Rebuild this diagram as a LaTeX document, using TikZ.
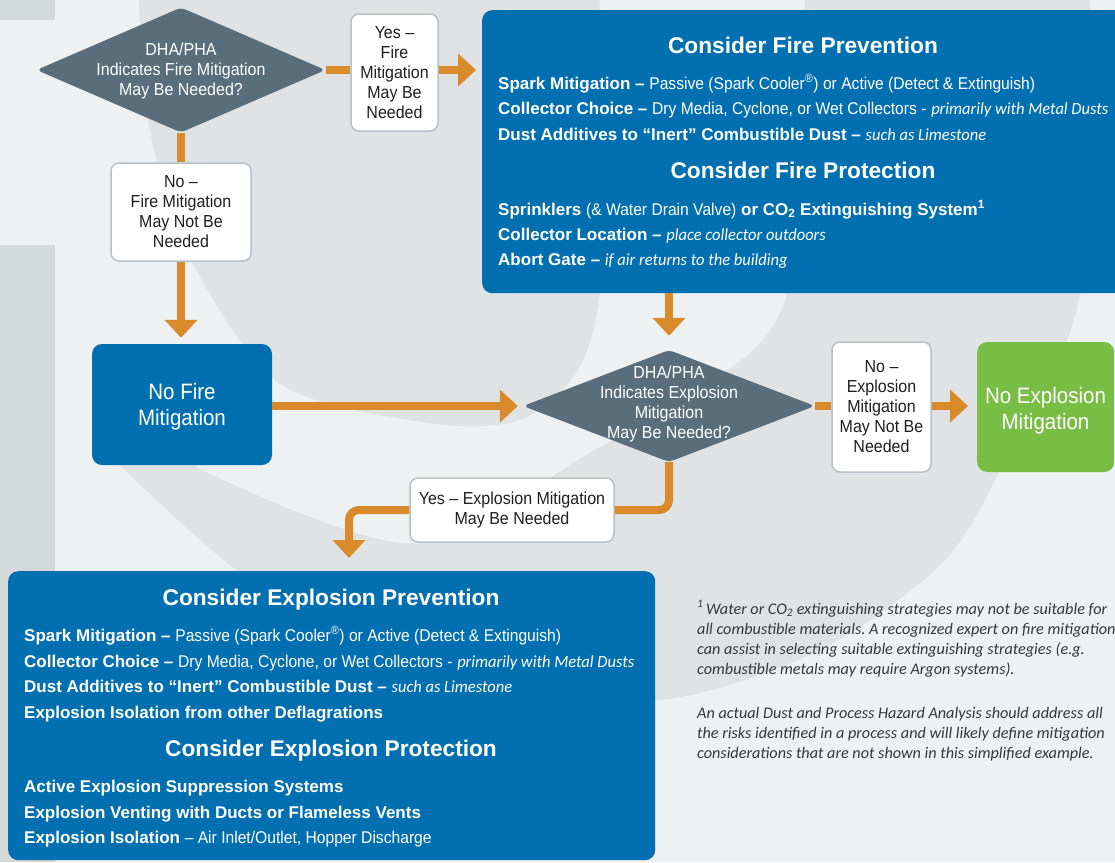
\documentclass[tikz,border=0pt]{standalone}
\usepackage{fontspec}
\setmainfont{Liberation Sans}
\newfontfamily\condfont{Liberation Sans}[FakeStretch=0.92]
\newfontfamily\italfont{Carlito}[FakeStretch=0.97]
\newfontfamily\notefont{Carlito}
\usetikzlibrary{shapes.geometric,arrows.meta}

\definecolor{flowblue}{HTML}{0270B0}
\definecolor{slate}{HTML}{5A6D7A}
\definecolor{floworange}{HTML}{D98A2B}
\definecolor{flowgreen}{HTML}{78BE44}
\definecolor{boxline}{HTML}{B7C1C9}
\definecolor{bgmid}{HTML}{DFE3E3}
\definecolor{bglight}{HTML}{EDF1F2}
\definecolor{bgdark}{HTML}{D4D9DA}
\definecolor{notegrey}{HTML}{383838}

\newcommand{\condtxt}[1]{{\condfont #1}}
\newcommand{\itpart}[1]{{\italfont\itshape #1}}

\begin{document}
\frenchspacing
\begin{tikzpicture}[x=1pt,y=-1pt,
    flowline/.style={draw=floworange, line width=8pt},
    arrowhd/.style={-{Triangle[length=18pt,width=32pt]}},
    decision/.style={diamond, fill=slate, inner sep=0pt, rounded corners=5pt},
    dtext/.style={align=center, text=white, inner sep=0pt,
      font=\condfont\fontsize{17.4}{20}\selectfont},
    answer/.style={draw=boxline, line width=1.5pt, fill=white, rounded corners=8pt,
      inner sep=0pt, align=center, text=black!88,
      font=\condfont\fontsize{17.4}{20}\selectfont},
    bluebox/.style={fill=flowblue, rounded corners=10pt, inner sep=0pt},
    endtext/.style={align=center, text=white, inner sep=0pt,
      font=\condfont\fontsize{22.3}{26}\selectfont},
    heading/.style={anchor=base, inner sep=0pt, text=white,
      font=\bfseries\fontsize{22.7}{24}\selectfont},
    bodyline/.style={anchor=base west, inner sep=0pt, text=white,
      font=\fontsize{17}{20}\selectfont},
    noteline/.style={anchor=base west, inner sep=0pt, text=notegrey,
      font=\notefont\itshape\fontsize{16.2}{20}\selectfont}]

  % background
  \useasboundingbox (0,0) rectangle (1115,862);
  \fill[bglight] (0,0) rectangle (1115,862);
  \fill[bgmid] (138,-20) plot[smooth] coordinates {(138,-20) (148,120) (186,250)
      (279,383) (429,423) (520,420) (578,370) (600,290) (598,150) (600,-20)} -- cycle;
  \fill[bgmid] (1090,-20) plot[smooth] coordinates {(1090,-20) (1080,293) (1010,450)
      (945,560) (820,650) (660,700) (450,690) (250,580) (118,463)}
    -- (100,400) -- (200,455)
    -- plot[smooth] coordinates {(196,467) (411,543) (600,447) (700,390) (787,293) (805,-20)}
    -- cycle;
  \fill[bgdark] (0,0) rectangle (55,20);
  \fill[bgdark] (0,245) rectangle (55,862);

  % fire branch
  \node[decision, minimum width=289pt, minimum height=125pt] (d1) at (181,70) {};
  \node[dtext] (d1t) at (181,71) {DHA/PHA\\Indicates Fire Mitigation\\May Be Needed?};
  \node[answer, minimum width=87pt, minimum height=117pt] (yes1) at (394.5,72.5)
    {Yes –\\Fire\\Mitigation\\May Be\\Needed};
  \node[answer, minimum width=140pt, minimum height=98pt] (no1) at (181,212)
    {No –\\Fire Mitigation\\May Not Be\\Needed};
  \node[bluebox, minimum width=180pt, minimum height=121pt] (nofire) at (182,404.5) {};
  \node[endtext] (nofiret) at (182,406.5) {No Fire\\Mitigation};
  \node[bluebox, minimum width=645pt, minimum height=283pt, anchor=north west] (fire) at (482,10) {};

  % explosion branch
  \node[decision, minimum width=292pt, minimum height=112pt] (d2) at (669,406) {};
  \node[dtext] (d2t) at (669,404) {DHA/PHA\\Indicates Explosion\\Mitigation\\May Be Needed?};
  \node[answer, minimum width=99pt, minimum height=130pt] (no2) at (881.5,407)
    {No –\\Explosion\\Mitigation\\May Not Be\\Needed};
  \node[fill=flowgreen, rounded corners=10pt, minimum width=137pt, minimum height=130pt,
    anchor=west] (noexpl) at (977,407) {};
  \node[endtext] (noexplt) at (1045.5,411) {No Explosion\\Mitigation};
  \node[answer, minimum width=204pt, minimum height=64pt] (yes2) at (512,510)
    {Yes – Explosion Mitigation\\May Be Needed};
  \node[bluebox, minimum width=647pt, minimum height=289pt, anchor=north west] (expl) at (8,571) {};
  \coordinate (drop) at (349,571);

  % connectors
  \draw[flowline] (d1.east) -- (d1.east -| yes1.west);
  \draw[flowline, arrowhd, shorten >=6pt] (d1.east -| yes1.east) -- (d1.east -| fire.west);
  \draw[flowline] (d1.south) -- (no1.north);
  \draw[flowline, arrowhd, shorten >=6pt] (no1.south) -- (no1.south |- nofire.north);
  \draw[flowline, arrowhd, shorten >=5pt] (nofire.east |- d2.west) -- (d2.west);
  \draw[flowline, arrowhd, shorten >=14pt] (d2.north |- fire.south) -- (d2.north);
  \draw[flowline] (d2.east) -- (d2.east -| no2.west);
  \draw[flowline, arrowhd, shorten >=9pt] (d2.east -| no2.east) -- (d2.east -| noexpl.west);
  \draw[flowline, rounded corners=10pt] (d2.south) |- (yes2.east);
  \draw[flowline, arrowhd, rounded corners=10pt, shorten >=13pt] (yes2.west) -| (drop);

  % fire box text
  \node[heading] (fireh1) at (803,53) {Consider Fire Prevention};
  \node[heading] (fireh2) at (803,178) {Consider Fire Protection};
  \def\FireLines{
    89/{\textbf{Spark Mitigation –} \condtxt{Passive (Spark Cooler\textsuperscript{®}) or Active (Detect \& Extinguish)}},
    114/{\textbf{Collector Choice –} \condtxt{Dry Media, Cyclone, or Wet Collectors -} \itpart{primarily with Metal Dusts}},
    140/{\textbf{Dust Additives to “Inert” Combustible Dust –} \itpart{such as Limestone}},
    215/{\textbf{Sprinklers} \condtxt{(\& Water Drain Valve)} \textbf{or CO\textsubscript{2} Extinguishing System\textsuperscript{1}}},
    240/{\textbf{Collector Location –} \itpart{place collector outdoors}},
    265/{\textbf{Abort Gate –} \itpart{if air returns to the building}}}
  \foreach \y/\txt in \FireLines{
    \node[bodyline] (fire\y) at (498,\y) {\txt};
  }

  % explosion box text
  \node[heading] (explh1) at (331,605) {Consider Explosion Prevention};
  \node[heading] (explh2) at (331,756) {Consider Explosion Protection};
  \def\ExplLines{
    641/{\textbf{Spark Mitigation –} \condtxt{Passive (Spark Cooler\textsuperscript{®}) or Active (Detect \& Extinguish)}},
    667/{\textbf{Collector Choice –} \condtxt{Dry Media, Cyclone, or Wet Collectors -} \itpart{primarily with Metal Dusts}},
    692/{\textbf{Dust Additives to “Inert” Combustible Dust –} \itpart{such as Limestone}},
    718/{\textbf{Explosion Isolation from other Deflagrations}},
    792/{\textbf{Active Explosion Suppression Systems}},
    818/{\textbf{Explosion Venting with Ducts or Flameless Vents}},
    843/{\textbf{Explosion Isolation} \condtxt{– Air Inlet/Outlet, Hopper Discharge}}}
  \foreach \y/\txt in \ExplLines{
    \node[bodyline] (expl\y) at (24,\y) {\txt};
  }

  % footnote
  \def\NoteLines{
    614/{\textsuperscript{1}\,Water or CO\textsubscript{2} extinguishing strategies may not be suitable for},
    634/{all combustible materials. A recognized expert on fire mitigation},
    654/{can assist in selecting suitable extinguishing strategies (e.g.},
    674/{combustible metals may require Argon systems).},
    718/{An actual Dust and Process Hazard Analysis should address all},
    738/{the risks identified in a process and will likely define mitigation},
    758/{considerations that are not shown in this simplified example.}}
  \foreach \y/\txt in \NoteLines{
    \node[noteline] (note\y) at (697,\y) {\txt};
  }
\end{tikzpicture}
\end{document}
